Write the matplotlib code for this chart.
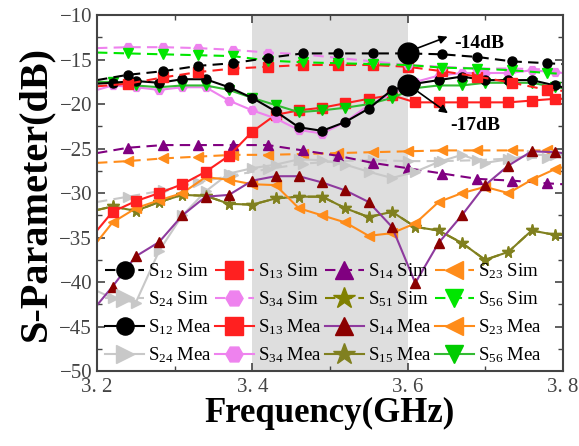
import numpy as np
import matplotlib
matplotlib.use('Agg')
import matplotlib.pyplot as plt

plt.rcParams['font.family'] = ['Liberation Serif', 'DejaVu Serif']
plt.rcParams['mathtext.default'] = 'regular'

# frequency points (GHz)
f_sim = [3.2, 3.24, 3.285, 3.33, 3.375, 3.42, 3.465, 3.51, 3.555, 3.6, 3.645, 3.69, 3.735, 3.78, 3.8]
f_mea = [3.2, 3.22, 3.25, 3.28, 3.31, 3.34, 3.37, 3.40, 3.43, 3.46, 3.49, 3.52, 3.55, 3.58,
         3.61, 3.64, 3.67, 3.70, 3.73, 3.76, 3.79, 3.8]

# simulated (dB)
s12_sim = [-17.3, -16.7, -16.3, -15.7, -15.4, -14.8, -14.3, -14.3, -14.3, -14.3, -14.4, -14.7, -15.2, -15.4, -15.5]
s13_sim = [-18.0, -17.7, -17.0, -16.4, -16.0, -15.8, -15.6, -15.6, -15.6, -15.8, -16.3, -16.9, -17.6, -18.4, -18.5]
s14_sim = [-25.5, -24.9, -24.6, -24.6, -24.6, -24.6, -25.2, -25.8, -26.6, -27.2, -27.8, -28.4, -28.6, -28.9, -29.0]
s23_sim = [-26.6, -26.4, -26.1, -25.9, -25.7, -25.7, -25.6, -25.5, -25.4, -25.3, -25.2, -25.2, -25.2, -25.2, -25.2]
s24_sim = [-31.0, -30.4, -29.7, -28.8, -28.0, -27.3, -26.7, -26.4, -26.3, -26.4, -26.4, -26.3, -26.1, -26.0, -26.0]
s34_sim = [-13.7, -13.6, -13.6, -13.7, -13.9, -14.2, -14.4, -14.8, -15.2, -15.6, -15.8, -16.0, -16.0, -16.1, -16.2]
s56_sim = [-14.2, -14.3, -14.4, -14.5, -14.6, -15.1, -15.3, -15.4, -15.5, -15.6, -15.9, -16.0, -16.2, -16.5, -16.6]

# measured (dB)
s12_mea = [-17.7, -17.6, -17.4, -17.6, -17.2, -17.2, -18.1, -19.3, -20.8, -22.6, -23.0, -22.0,
           -20.5, -18.4, -17.7, -17.3, -16.9, -17.3, -17.3, -17.3, -17.9, -18.1]
s13_mea = [-34.2, -32.1, -30.9, -30.0, -29.0, -27.6, -25.8, -23.1, -21.2, -20.7, -20.4, -19.9,
           -19.4, -19.0, -19.8, -19.8, -19.8, -19.8, -19.8, -19.6, -19.4, -19.4]
s14_mea = [-42.6, -40.5, -37.1, -35.5, -32.5, -30.4, -30.2, -28.6, -28.1, -28.1, -28.8, -29.7,
           -31.0, -33.8, -40.1, -35.6, -32.5, -29.1, -26.9, -25.3, -25.4, -25.5]
s23_mea = [-35.5, -33.3, -31.7, -30.8, -30.0, -28.2, -28.5, -29.0, -29.1, -31.7, -32.5, -33.3,
           -34.8, -34.5, -33.4, -31.0, -30.0, -29.3, -30.0, -28.5, -27.3, -27.1]
s24_mea = [-41.0, -41.8, -42.3, -36.5, -32.5, -29.8, -27.8, -27.2, -26.8, -26.2, -26.3, -26.8,
           -27.6, -28.3, -27.6, -26.5, -25.7, -26.6, -26.2, -25.7, -25.7, -25.7]
s34_mea = [-18.4, -17.9, -18.1, -18.4, -18.1, -18.1, -19.6, -20.7, -21.6, -22.9, -23.3, -22.0,
           -20.1, -18.8, -17.5, -16.8, -16.5, -16.5, -16.5, -16.2, -16.4, -16.5]
s15_mea = [-31.9, -31.5, -32.0, -31.0, -30.2, -30.3, -31.2, -31.3, -30.6, -30.4, -30.4, -31.7,
           -32.7, -32.1, -33.8, -34.2, -35.6, -37.5, -36.6, -34.2, -34.7, -34.7]
s51_sim = s15_mea  # hidden under S15 Mea
s56_mea = [-17.5, -17.5, -17.9, -18.1, -17.9, -17.9, -18.4, -19.3, -20.1, -20.9, -20.7, -20.4,
           -20.0, -19.3, -18.2, -17.9, -17.9, -17.6, -17.6, -17.6, -18.1, -18.2]

fig = plt.figure(figsize=(5.79, 4.46), dpi=100)
ax = fig.add_axes([0.1675, 0.168, 0.8045, 0.798])
ax.axvspan(3.4, 3.6, color='#dedede', zorder=0, lw=0)

ms = 6.5
me = slice(1, -1)
def sim(y, c, m, lab, mc=None):
    return ax.plot(f_sim, y, '--', color=c, marker=m, ms=ms, mfc=mc or c, mec=mc or c,
                   lw=1.5, dashes=(5, 3), markevery=me, label=lab)[0]
def mea(y, c, m, lab, mc=None):
    return ax.plot(f_mea, y, '-', color=c, marker=m, ms=ms, mfc=mc or c, mec=mc or c,
                   lw=1.5, markevery=me, label=lab)[0]

h = {}
h['s51s'] = ax.plot(f_mea, s51_sim, '--', color='#808000', marker='*', ms=ms + 2, dashes=(5, 3),
                    lw=1.5, markevery=me, label='S$_{51}$ Sim')[0]
h['s24s'] = sim(s24_sim, '#c8c8c8', '>', 'S$_{24}$ Sim')
h['s23s'] = sim(s23_sim, '#ff8c1a', '<', 'S$_{23}$ Sim')
h['s14s'] = sim(s14_sim, '#800080', '^', 'S$_{14}$ Sim')
h['s24m'] = mea(s24_mea, '#c8c8c8', '>', 'S$_{24}$ Mea')
h['s15m'] = ax.plot(f_mea, s15_mea, '-', color='#808020', marker='*', ms=ms + 2, lw=1.5,
                    markevery=me, label='S$_{15}$ Mea')[0]
h['s23m'] = mea(s23_mea, '#ff8c1a', '<', 'S$_{23}$ Mea')
h['s14m'] = mea(s14_mea, '#8e3a9e', '^', 'S$_{14}$ Mea', mc='#8b0000')
h['s13m'] = mea(s13_mea, '#ff2020', 's', 'S$_{13}$ Mea')
h['s34m'] = mea(s34_mea, '#ee82ee', 'H', 'S$_{34}$ Mea')
h['s56m'] = mea(s56_mea, '#33bb33', 'v', 'S$_{56}$ Mea', mc='#00cc00')
h['s12m'] = mea(s12_mea, 'black', 'o', 'S$_{12}$ Mea')
h['s13s'] = sim(s13_sim, '#ff2020', 's', 'S$_{13}$ Sim')
h['s34s'] = sim(s34_sim, '#ee82ee', 'H', 'S$_{34}$ Sim')
h['s56s'] = sim(s56_sim, '#00e600', 'v', 'S$_{56}$ Sim')
h['s12s'] = sim(s12_sim, 'black', 'o', 'S$_{12}$ Sim')

# -14dB / -17dB markers
ax.plot([3.6, 3.6], [-14.2, -17.8], 'o', color='black', ms=15, ls='none', zorder=5)
ax.annotate('', xy=(3.655, -12.3), xytext=(3.607, -13.9),
            arrowprops=dict(arrowstyle='-|>', color='black', lw=1.2, mutation_scale=12))
ax.annotate('', xy=(3.655, -21.2), xytext=(3.607, -18.2),
            arrowprops=dict(arrowstyle='-|>', color='black', lw=1.2, mutation_scale=12))
ax.text(3.66, -13.2, '-14dB', fontsize=14, fontweight='bold', va='center')
ax.text(3.655, -22.4, '-17dB', fontsize=14, fontweight='bold', va='center')

order = ['s12s', 's24s', 's12m', 's24m', 's13s', 's34s', 's13m', 's34m',
         's14s', 's51s', 's14m', 's15m', 's23s', 's56s', 's23m', 's56m']
ax.legend([h[k] for k in order], [h[k].get_label() for k in order], ncol=4, frameon=False,
          loc='lower left', bbox_to_anchor=(0.005, 0.0), fontsize=13.5, markerscale=1.9,
          handlelength=2.1, handletextpad=0.2, columnspacing=0.15, labelspacing=0.45,
          borderpad=0.1, borderaxespad=0.2)

ax.set_xlim(3.2, 3.8)
ax.set_ylim(-50, -10)
ax.set_xticks([3.2, 3.4, 3.6, 3.8])
ax.set_xticklabels(['3. 2', '3. 4', '3. 6', '3. 8'])
ax.set_xticks(np.arange(3.2, 3.81, 0.1), minor=True)
ax.set_yticks(np.arange(-50, -9, 5))
ax.set_yticks(np.arange(-50, -9, 2.5), minor=True)
ax.tick_params(which='both', direction='in', top=True, right=True, labelsize=15,
               labelcolor='#444444', color='#444444')
ax.tick_params(axis='x', pad=5)
ax.tick_params(which='major', length=6, width=1.2)
ax.tick_params(which='minor', length=3.5, width=1.0)
for s in ax.spines.values():
    s.set_linewidth(1.5)
    s.set_color('#444444')
ax.set_xlabel('Frequency(GHz)', fontsize=25, fontweight='bold', labelpad=0)
ax.set_ylabel('S-Parameter(dB)', fontsize=29, fontweight='bold', labelpad=4)

fig.savefig('out.png', dpi=100)
